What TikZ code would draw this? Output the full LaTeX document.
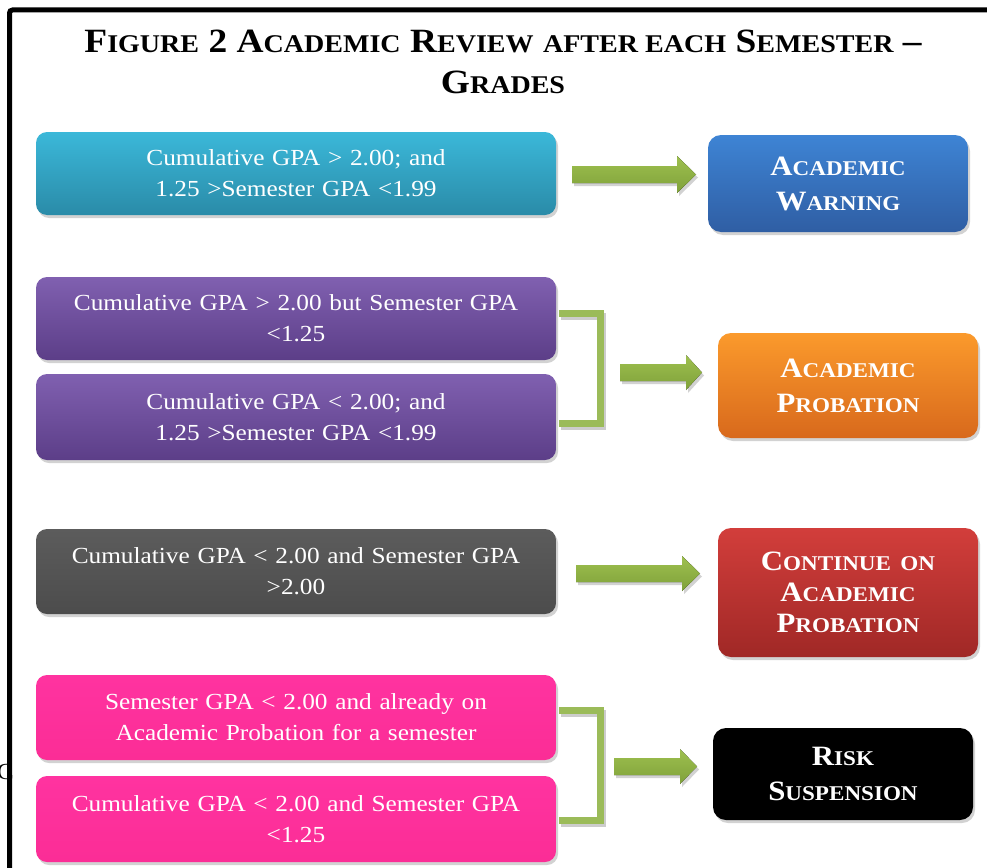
\documentclass[tikz,border=0pt]{standalone}
\usepackage{fontspec}
\setmainfont{Liberation Serif}[FakeStretch=1.1]
\usetikzlibrary{shadows}
\definecolor{tealT}{HTML}{3BB8D9}
\definecolor{tealB}{HTML}{2A8BA8}
\definecolor{purT}{HTML}{8060B0}
\definecolor{purB}{HTML}{5C3E88}
\definecolor{grayT}{HTML}{5C5C5C}
\definecolor{grayB}{HTML}{4C4C4C}
\definecolor{pinkT}{HTML}{FF33A0}
\definecolor{pinkB}{HTML}{FB2D96}
\definecolor{bluT}{HTML}{3E84D4}
\definecolor{bluB}{HTML}{2F5EA4}
\definecolor{oraT}{HTML}{FB9A2C}
\definecolor{oraB}{HTML}{D8691C}
\definecolor{redT}{HTML}{D23E3B}
\definecolor{redB}{HTML}{A02826}
\definecolor{grnT}{HTML}{9EC04F}
\definecolor{grnB}{HTML}{7FA13A}
\definecolor{grn}{HTML}{9BBB59}
\newcommand\kc[2]{#1{\fontsize{21}{21}\selectfont#2}}
\newcommand\kt[2]{#1{\fontsize{25.5}{25.5}\selectfont#2}}
\tikzset{
  shad/.style={drop shadow={opacity=0.35,shadow xshift=2pt,shadow yshift=-3pt}},
  cond/.style={shad,rounded corners=11pt,minimum width=520pt,text width=505pt,align=center,
    text=white,font=\fontsize{23}{31}\selectfont,inner sep=0pt},
  res/.style={shad,rounded corners=13pt,minimum width=260pt,text width=245pt,align=center,
    text=white,font=\fontsize{28}{35}\selectfont\bfseries,inner sep=0pt},
  barrow/.style={shad,top color=grnT,bottom color=grnB},
  brack/.style={draw=grn,line width=7pt},
  brackshad/.style={draw=black,opacity=0.2,line width=7pt}
}
\begin{document}
\begin{tikzpicture}[x=1pt,y=-1pt]
\useasboundingbox (0,0) rectangle (987,867);
\clip (0,0) rectangle (987,867);
\fill[white] (0,0) rectangle (987,867);
% frame
\node[font=\fontsize{23}{23}\selectfont,anchor=east,inner sep=0pt] (cc) at (14,772) {C};
\draw[line width=5pt,rounded corners=3pt] (9.5,1000) -- (9.5,10) -- (1100,10);
% title
\node[align=center,font=\bfseries\fontsize{34}{41}\selectfont] (title) at (503,62)
  {\kt{F}{IGURE} 2 \kt{A}{CADEMIC} \kt{R}{EVIEW} \kt{}{AFTER EACH} \kt{S}{EMESTER} –\\ \kt{G}{RADES}};
% conditions
\node[cond,minimum height=83pt,top color=tealT,bottom color=tealB] (c1) at (296,173.5)
  {Cumulative GPA > 2.00; and\\1.25 >Semester GPA <1.99};
\node[cond,minimum height=83pt,top color=purT,bottom color=purB] (c2) at (296,318.5)
  {Cumulative GPA > 2.00 but Semester GPA\\<1.25};
\node[cond,minimum height=86pt,top color=purT,bottom color=purB] (c3) at (296,417)
  {Cumulative GPA < 2.00; and\\1.25 >Semester GPA <1.99};
\node[cond,minimum height=85pt,top color=grayT,bottom color=grayB] (c4) at (296,571.5)
  {Cumulative GPA < 2.00 and Semester GPA\\>2.00};
\node[cond,minimum height=85pt,top color=pinkT,bottom color=pinkB] (c5) at (296,717.5)
  {Semester GPA < 2.00 and already on\\Academic Probation for a semester};
\node[cond,minimum height=86pt,top color=pinkT,bottom color=pinkB] (c6) at (296,819)
  {Cumulative GPA < 2.00 and Semester GPA\\<1.25};
% results
\node[res,minimum height=97pt,top color=bluT,bottom color=bluB] (r1) at (838,183.5)
  {\kc{A}{CADEMIC}\\\kc{W}{ARNING}};
\node[res,minimum height=105pt,top color=oraT,bottom color=oraB] (r2) at (848,385.5)
  {\kc{A}{CADEMIC}\\\kc{P}{ROBATION}};
\node[res,minimum height=129pt,top color=redT,bottom color=redB,font=\fontsize{28}{31}\selectfont\bfseries] (r3) at (848,592.5)
  {\kc{C}{ONTINUE ON}\\\kc{A}{CADEMIC}\\\kc{P}{ROBATION}};
\node[res,minimum height=92pt,fill=black] (r4) at (843,774)
  {\kc{R}{ISK}\\\kc{S}{USPENSION}};
% brackets
\draw[brackshad] (561,316.5) -- (602.5,316.5) -- (602.5,426.5) -- (561,426.5);
\draw[brack] (559,313.5) -- (600.5,313.5) -- (600.5,423.5) -- (559,423.5);
\draw[brackshad] (561,713.5) -- (602.5,713.5) -- (602.5,823.5) -- (561,823.5);
\draw[brack] (559,710.5) -- (600.5,710.5) -- (600.5,820.5) -- (559,820.5);
% block arrows
\fill[barrow] (572,166) -- (677,166) -- (677,156) -- (696,174.5) -- (677,193) -- (677,183) -- (572,183) -- cycle;
\fill[barrow] (620,364) -- (686,364) -- (686,355) -- (702,372.5) -- (686,390) -- (686,381) -- (620,381) -- cycle;
\fill[barrow] (576,565) -- (682,565) -- (682,556) -- (700,573.5) -- (682,591) -- (682,582) -- (576,582) -- cycle;
\fill[barrow] (614,758) -- (680,758) -- (680,749) -- (697,766.5) -- (680,784) -- (680,775) -- (614,775) -- cycle;
\end{tikzpicture}
\end{document}
